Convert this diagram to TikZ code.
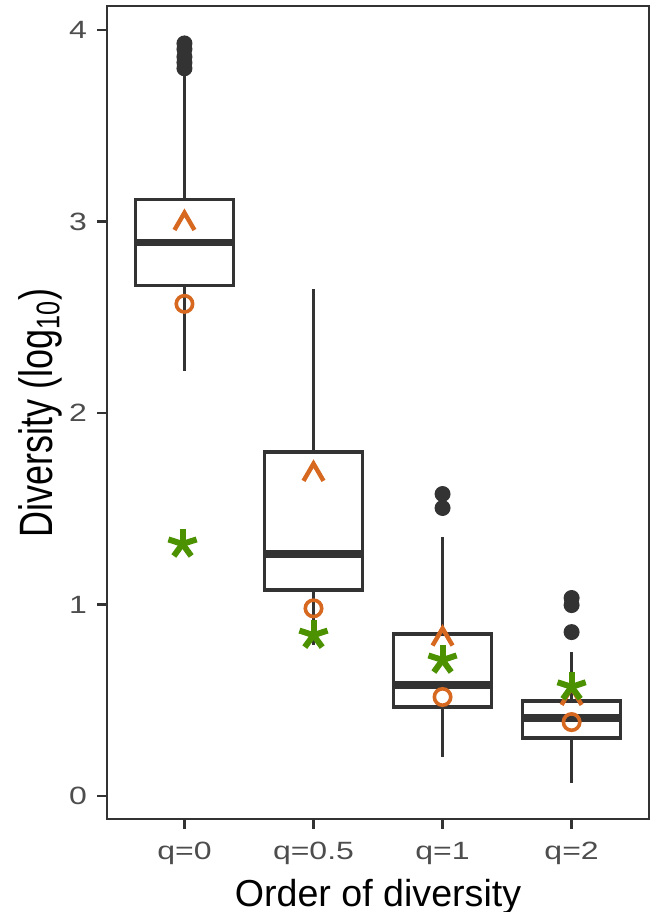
\documentclass[tikz,border=0pt]{standalone}
\usepackage{fontspec}
\setmainfont{Liberation Sans}
\definecolor{boxgrey}{HTML}{333333}
\definecolor{labgrey}{HTML}{4D4D4D}
\definecolor{estorange}{RGB}{214,104,32}
\definecolor{estgreen}{RGB}{75,145,0}
\tikzset{
  caretmk/.pic={\draw[estorange,line width=2.2pt] (-5pt,-5.2pt) -- (0,3.4pt) -- (5pt,-5.2pt);},
  starmk/.pic={\foreach \a in {90,18,162,234,306} \draw[estgreen,line width=3pt] (0,0) -- (\a:7.4pt);}
}
\begin{document}
\begin{tikzpicture}[x=64.525pt,y=95.75pt,
    boxln/.style={boxgrey,line width=1.6pt},
    medln/.style={boxgrey,line width=3.6pt},
    ticklab/.style={labgrey,inner sep=0pt,font=\fontsize{12.5}{14}\selectfont},
    ringmk/.style={estorange,line width=1.8pt}]
        \useasboundingbox (-0.4293,-0.6057) rectangle (4.6386,4.1567);
        % axes
        \draw[boxgrey,line width=0.8pt] (0.4,-0.12) rectangle (4.6,4.125);
        \foreach \y in {0,1,2,3,4} \draw[boxgrey,line width=1.2pt] (0.4,\y) -- ++(-5pt,0) node[ticklab,anchor=east,xshift=-4.5pt](yl\y){\scalebox{1.28}[1]{\y}};
        \foreach \i/\q in {1/0,2/0.5,3/1,4/2} \draw[boxgrey,line width=1.2pt] (\i,-0.12) -- ++(0,-5pt) node[ticklab,anchor=base,yshift=-15.5pt](xl\i){\scalebox{1.28}[1]{q=\q}};
        \node[anchor=base,inner sep=0pt,yshift=-44pt,font=\fontsize{18.8}{22}\selectfont](xtitle)at(2.5,-0.12){Order of diversity};
        \node[anchor=base,rotate=90,inner sep=0pt,font=\fontsize{18}{22}\selectfont](ytitle)at(-0.026,2.0){\scalebox{1}[1.3]{Diversity (log\textsubscript{10})}};
        % boxes
        \foreach \i/\lo/\qa/\me/\qb/\hi in {1/2.22/2.665/2.89/3.115/3.77,2/0.789/1.076/1.264/1.796/2.647,3/0.204/0.465/0.58/0.846/1.352,4/0.068/0.303/0.407/0.496/0.752}{
            \draw[boxln] (\i,\lo) -- (\i,\qa);
            \draw[boxln] (\i,\qb) -- (\i,\hi);
            \draw[boxln,fill=white] (\i-0.38,\qa) rectangle (\i+0.38,\qb);
            \draw[medln] (\i-0.38,\me) -- (\i+0.38,\me);
        }
        % outliers
        \foreach \i/\v in {1/3.80,1/3.83,1/3.86,1/3.90,1/3.93,3/1.504,3/1.577,4/0.856,4/0.997,4/1.034} \fill[boxgrey] (\i,\v) circle (4pt);
        % estimates
        \foreach \i/\v in {1/3.01,2/1.70,3/0.84,4/0.53} \pic at (\i,\v) {caretmk};
        \foreach \i/\v in {1/2.57,2/0.98,3/0.517,4/0.386} \draw[ringmk] (\i,\v) circle (4.1pt);
        \foreach \x/\v in {0.985/1.316,2/0.84,3/0.71,4/0.57} \pic at (\x,\v) {starmk};
    \end{tikzpicture}
\end{document}
